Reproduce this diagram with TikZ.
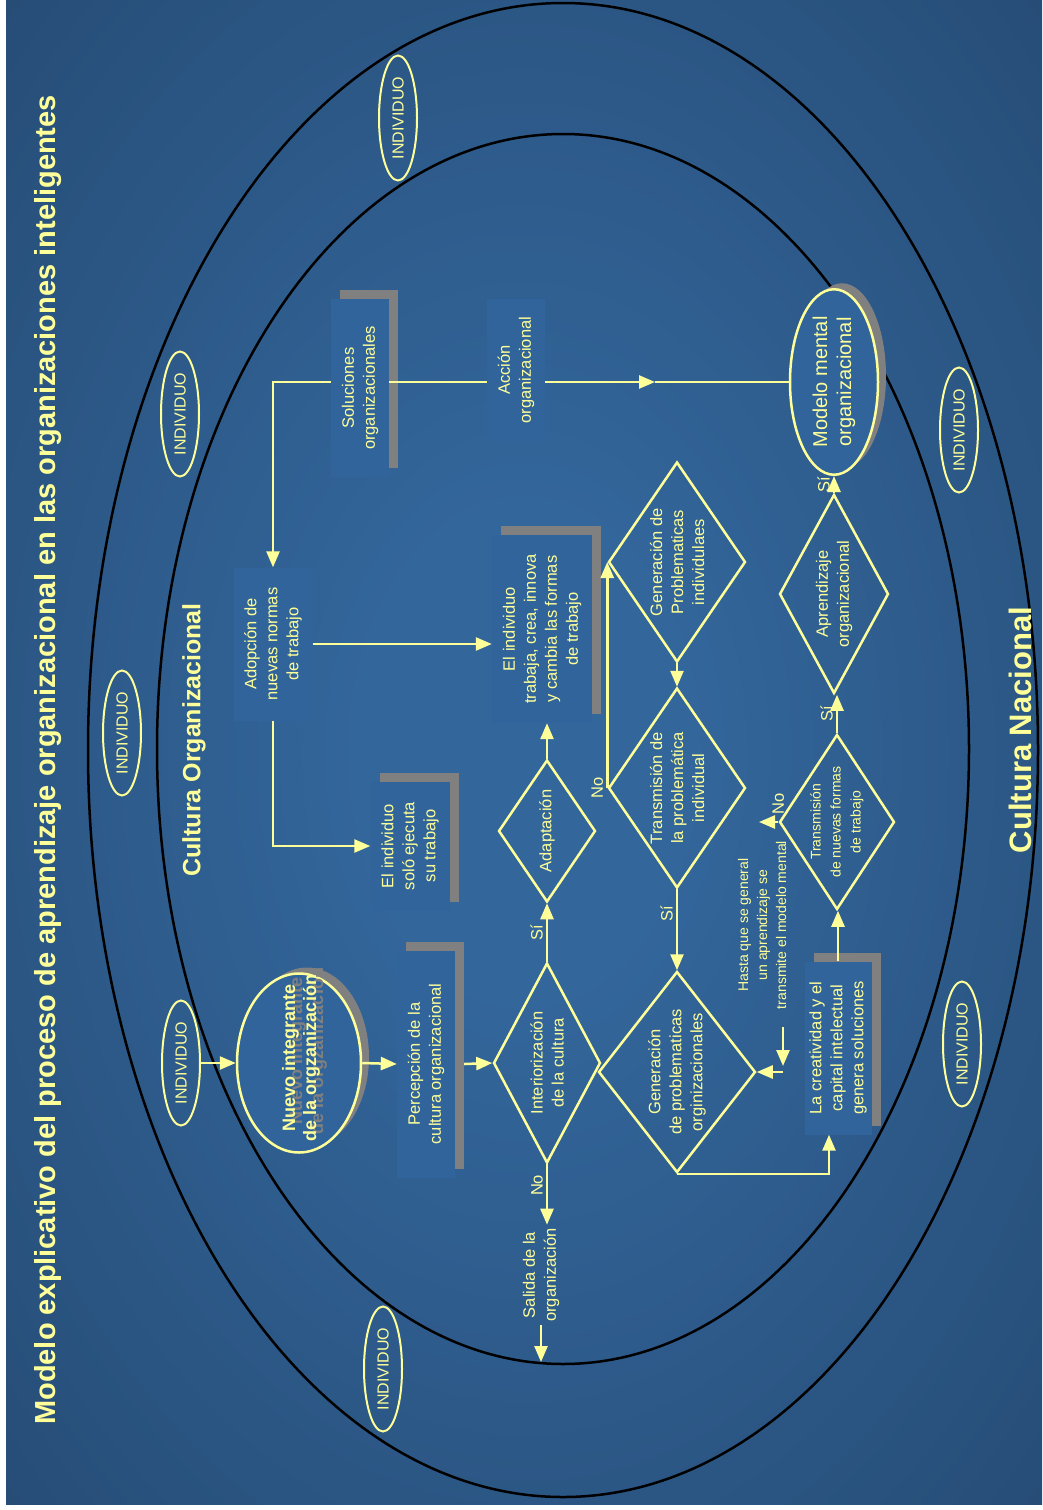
\documentclass[tikz,border=0pt]{standalone}
\usepackage{fontspec}
\setmainfont{Liberation Sans}
\usepackage{xcolor}
\usepackage{tikz}
\usetikzlibrary{shapes.geometric, arrows.meta, shadows, calc}
\definecolor{slideout}{HTML}{22446A}
\definecolor{slidein}{HTML}{33669B}
\definecolor{boxblue}{HTML}{31649A}
\definecolor{shgray}{HTML}{808080}
\definecolor{yel}{HTML}{FFFF99}
\pgfdeclareradialshading{slideglow}{\pgfpoint{0bp}{0bp}}{color(0bp)=(slidein); color(8bp)=(slidein); color(45bp)=(slideout); color(100bp)=(slideout)}
\tikzset{every node/.style={rotate=90, text=yel, align=center, font=\fontsize{16.5}{21}\selectfont},
    box/.style={fill=boxblue, inner sep=0pt},
    shbox/.style={box, drop shadow={shadow xshift=9pt, shadow yshift=9pt, fill=shgray, opacity=1}},
    cond/.style={diamond, draw=yel, line width=2.5pt, inner sep=-30pt},
    oval/.style={ellipse, draw=yel, line width=2.5pt, fill=boxblue, inner sep=0pt,
        drop shadow={shadow xshift=8pt, shadow yshift=6pt, fill=shgray, opacity=1}},
    indiv/.style={ellipse, draw=yel, line width=2pt, minimum width=125pt, minimum height=38pt,
        inner sep=0pt, font=\fontsize{16}{18}\selectfont},
    ln/.style={draw=yel, line width=2.5pt},
    arr/.style={ln, -{Triangle[length=16pt, width=13pt]}},
    lbl/.style={inner sep=3pt}}

\begin{document}
\begin{tikzpicture}[x=1pt, y=-1pt]
    \fill[white] (0,0) rectangle (1042,1510);
    \shade[shading=slideglow] (6,0) rectangle (1042,1504);
    \useasboundingbox (0,0) rectangle (1042,1510);
    \draw[line width=2.5pt] (563,750) ellipse [x radius=475pt, y radius=747pt];
    \draw[line width=2.5pt] (563,749) ellipse [x radius=406pt, y radius=615pt];

    \node[font=\fontsize{29}{34}\selectfont\bfseries] (title) at (48,760)
        {Modelo explicativo del proceso de aprendizaje organizacional en las organizaciones inteligentes};
    \node[font=\fontsize{25}{30}\selectfont\bfseries] (corg) at (194,740) {Cultura Organizacional};
    \node[font=\fontsize{31}{36}\selectfont\bfseries] (cnac) at (1020,730) {Cultura Nacional};

    \node[indiv] (ind1) at (398,118) {INDIVIDUO};
    \node[indiv] (ind2) at (180,414) {INDIVIDUO};
    \node[indiv] (ind3) at (122,733) {INDIVIDUO};
    \node[indiv] (ind4) at (181,1063) {INDIVIDUO};
    \node[indiv] (ind5) at (383,1369) {INDIVIDUO};
    \node[indiv] (ind6) at (959,430) {INDIVIDUO};
    \node[indiv] (ind7) at (962,1044) {INDIVIDUO};

    \node[oval, minimum width=179pt, minimum height=124pt] (nuevo) at (299,1063) {};
    \node[text=shgray, font=\fontsize{18}{21}\selectfont\bfseries] (nuevoshade) at (308,1051)
        {Nuevo integrante\\de la orgzanización};
    \node[font=\fontsize{18}{21}\selectfont\bfseries] (nuevotxt) at (301,1058)
        {Nuevo integrante\\de la orgzanización};
    \node[shbox, minimum width=227pt, minimum height=58pt] (perc) at (426,1064)
        {Percepción de la\\cultura organizacional};
    \node[cond, minimum width=200pt, minimum height=107pt] (inter) at (547,1063)
        {Interiorización\\de la cultura};
    \node (salida) at (541,1275) {Salida de la\\organización};
    \coordinate (exit) at (541,1362);
    \node[cond, minimum width=142pt, minimum height=97pt] (adap) at (547,831) {Adaptación};
    \node[shbox, minimum width=188pt, minimum height=100pt] (trab) at (542,629)
        {El individuo\\trabaja, crea, innova\\y cambia las formas\\de trabajo};
    \node[box, minimum width=153pt, minimum height=79pt] (adop) at (273,644)
        {Adopción de\\nuevas normas\\de trabajo};
    \node[shbox, minimum width=129pt, minimum height=79pt] (ejec) at (410,846)
        {El individuo\\soló ejecuta\\su trabajo};
    \node[shbox, minimum width=178pt, minimum height=58pt] (sol) at (360,388)
        {Soluciones\\organizacionales};
    \node[box, minimum width=142pt, minimum height=58pt] (acc) at (516,370)
        {Acción\\organizacional};
    \node[oval, minimum width=152pt, minimum height=88pt, font=\fontsize{20}{24}\selectfont] (modelo) at (834,382)
        {Modelo mental\\organizacional};
    \coordinate (accmid) at (655,382);

    \node[cond, minimum width=200pt, minimum height=137pt] (genpi) at (677,562)
        {Generación de\\Problematicas\\individulaes};
    \node[cond, minimum width=200pt, minimum height=137pt] (tpi) at (677,788)
        {Transmisión de\\la problemática\\individual};
    \node[cond, minimum width=201pt, minimum height=157pt] (genpo) at (677,1072)
        {Generación\\de problematicas\\orginizacionales};
    \node[shbox, minimum width=173pt, minimum height=67pt] (crea) at (838,1048)
        {La creatividad y el\\capital intelectual\\genera soluciones};
    \node[cond, minimum width=175pt, minimum height=115pt, font=\fontsize{14}{20}\selectfont] (tnf) at (837,822)
        {Transmisión\\de nuevas formas\\de trabajo};
    \node[cond, minimum width=199pt, minimum height=109pt] (apre) at (834,594)
        {Aprendizaje\\organizacional};
    \node[font=\fontsize{14}{19}\selectfont] (hasta) at (762,925)
        {Hasta que se general\\un aprendizaje se\\transmite el modelo mental};
    \coordinate (tnfno) at (759,822);
    \coordinate (loopa) at (783,1027);
    \coordinate (loopb) at (783,1066);

    \draw[arr] (ind4.south) -- (nuevo.north);
    \draw[arr] (nuevo.south) -- (perc.north);
    \draw[arr] ($(perc.south)+(9,0)$) -- (inter.north);
    \draw[arr] (inter.east) -- node[lbl, midway, anchor=south] {Sí} (adap.west);
    \draw[arr] (inter.west) -- node[lbl, pos=0.35, anchor=south] {No} (inter.west |- salida.east);
    \draw[arr] (salida.west) -- (exit);
    \draw[arr] (adap.east) -- (adap.east |- trab.west);
    \draw[arr] (sol.north |- modelo.north) -| (adop.east);
    \draw[ln] (sol.south |- modelo.north) -- (acc.north |- modelo.north);
    \draw[arr] (acc.south |- modelo.north) -- (accmid);
    \draw[ln] (accmid) -- (modelo.north);
    \draw[arr] (adop.south) -- (trab.north |- adop.south);
    \draw[arr] (adop.west) |- (ejec.north);
    \draw[arr] (genpi.west) -- (tpi.east);
    \draw[arr] (tpi.north) -- node[lbl, pos=0, anchor=south] {No} (genpi.north);
    \draw[arr] (tpi.west) -- node[lbl, pos=0.3, anchor=south] {Sí} (genpo.east);
    \draw[arr] (genpo.west) -| ($(crea.west)+(-9,0)$);
    \draw[arr] (crea.east) -- (crea.east |- tnf.west);
    \draw[arr] (tnf.east) -- node[lbl, midway, anchor=south] {Sí} (tnf.east |- apre.west);
    \draw[arr] (apre.east) -- node[lbl, midway, anchor=south] {Sí} (apre.east |- modelo.west);
    \draw[arr] (tnf.north) -- node[lbl, pos=0, anchor=west, inner sep=6pt] {No} (tnfno);
    \draw[arr] (loopa) -- (loopb);
    \draw[arr] (genpo.south -| loopa) -- (genpo.south);
\end{tikzpicture}
\end{document}
